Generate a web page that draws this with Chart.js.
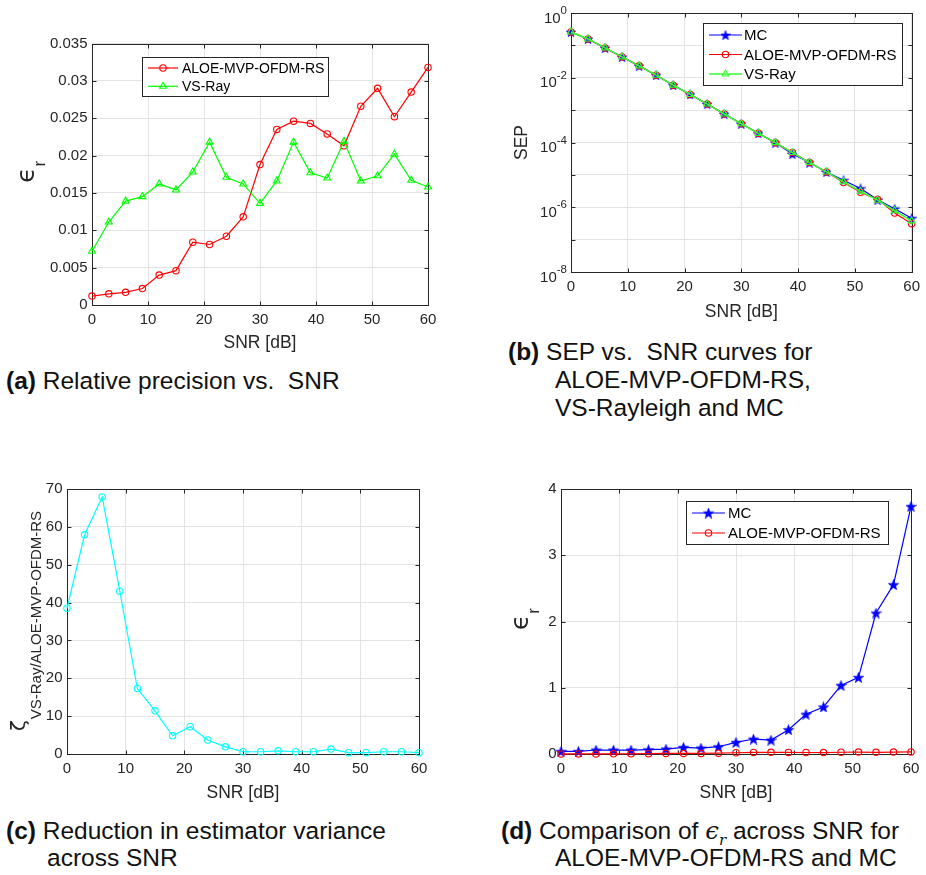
<!DOCTYPE html>
<html lang="en">
<head>
<meta charset="UTF-8">
<title>ALOE-MVP-OFDM-RS vs SNR</title>
<script src="https://cdn.jsdelivr.net/npm/chart.js"></script>
<style>
    body { margin: 0; background: #fff; width: 926px; height: 875px; position: relative; overflow: hidden; }
    canvas { position: absolute; }
    .cap { position: absolute; font-family: 'Liberation Sans', Arial, sans-serif; font-size: 24.5px; line-height: 28px; color: #111; white-space: nowrap; }
    .cap b { font-weight: 700; }
    .eps { font-family: 'DejaVu Serif', serif; font-style: italic; }
    .eps sub { font-size: 15px; }
</style>
</head>
<body>
<canvas id="chA" width="445" height="325" style="left:0;top:30px"></canvas>
<canvas id="chB" width="456" height="324" style="left:470px;top:0"></canvas>
<canvas id="chC" width="440" height="330" style="left:0;top:475px"></canvas>
<canvas id="chD" width="456" height="330" style="left:470px;top:475px"></canvas>

<div class="cap" style="left:6px;top:367px"><b>(a)</b> Relative precision vs.&nbsp; SNR</div>
<div class="cap" style="left:508px;top:338px"><b>(b)</b> SEP vs.&nbsp; SNR curves for</div>
<div class="cap" style="left:555px;top:366px">ALOE-MVP-OFDM-RS,</div>
<div class="cap" style="left:555px;top:394px">VS-Rayleigh and MC</div>
<div class="cap" style="left:6px;top:817px"><b>(c)</b> Reduction in estimator variance</div>
<div class="cap" style="left:47px;top:844px">across SNR</div>
<div class="cap" style="left:501px;top:817px"><b>(d)</b> Comparison of <span class="eps">ϵ<sub>r</sub></span> across SNR for</div>
<div class="cap" style="left:555px;top:844px">ALOE-MVP-OFDM-RS and MC</div>

<script>
    const FONT = "'Liberation Sans', Arial, Helvetica, sans-serif";
    const AX = '#262626';
    const GRID = '#e3e3e3';

    // data
    const snr = [0, 3, 6, 9, 12, 15, 18, 21, 24, 27, 30, 33, 36, 39, 42, 45, 48, 51, 54, 57, 60];

    const aloeEps  = [0.0012, 0.0015, 0.0017, 0.0022, 0.0040, 0.0046, 0.0084, 0.0081, 0.0092, 0.0118, 0.0188,
                      0.0235, 0.0246, 0.0243, 0.0229, 0.0213, 0.0266, 0.0290, 0.0252, 0.0285, 0.0318];
    const vsRayEps = [0.0072, 0.0111, 0.0139, 0.0145, 0.0162, 0.0154, 0.0178, 0.0218, 0.0171, 0.0162, 0.0136,
                      0.0166, 0.0218, 0.0177, 0.0170, 0.0219, 0.0166, 0.0173, 0.0202, 0.0167, 0.0158];

    const mcSep    = [0.26, 0.158, 0.0835, 0.044, 0.0233, 0.012, 0.0059, 0.00305, 0.00154, 0.00076, 0.00038,
                      0.000192, 9.9e-5, 4.4e-5, 2.4e-5, 1.23e-5, 6.85e-6, 3.8e-6, 1.7e-6, 9.0e-7, 4.6e-7];
    const aloeSep  = [0.26, 0.158, 0.0835, 0.044, 0.0233, 0.012, 0.0059, 0.00305, 0.00154, 0.00076, 0.00038,
                      0.000192, 9.9e-5, 4.9e-5, 2.4e-5, 1.23e-5, 5.8e-6, 2.9e-6, 1.75e-6, 6.6e-7, 3.1e-7];
    const vsRaySep = [0.26, 0.158, 0.0835, 0.044, 0.0233, 0.012, 0.0059, 0.00305, 0.00154, 0.00076, 0.00038,
                      0.000192, 9.9e-5, 4.9e-5, 2.4e-5, 1.23e-5, 6.1e-6, 3.1e-6, 1.65e-6, 7.8e-7, 3.8e-7];

    const zeta     = [38.5, 57.9, 67.9, 43.0, 17.3, 11.4, 4.8, 7.2, 3.7, 1.9, 0.6,
                      0.6, 0.85, 0.6, 0.6, 1.3, 0.35, 0.35, 0.6, 0.6, 0.35];

    const mcEps    = [0.04, 0.04, 0.06, 0.06, 0.06, 0.065, 0.075, 0.10, 0.09, 0.11, 0.176,
                      0.226, 0.21, 0.367, 0.60, 0.71, 1.036, 1.157, 2.128, 2.556, 3.738];

    const sepExp = [0, -1, -2, -3, -4, -5, -6, -7, -8];

    const pts = vals => vals.map((v, i) => ({ x: snr[i], y: v }));

    // filled pentagram marker like matlab 'p'
    function pentagram(color, size) {
        const c = document.createElement('canvas');
        c.width = size; c.height = size;
        const g = c.getContext('2d');
        const r = size / 2, ri = r * 0.42;
        g.beginPath();
        for (let k = 0; k < 10; k++) {
            const rr = k % 2 ? ri : r;
            const a = -Math.PI / 2 + k * Math.PI / 5;
            g.lineTo(r + rr * Math.cos(a), r + 0.6 + rr * Math.sin(a));
        }
        g.closePath();
        g.fillStyle = color;
        g.fill();
        g.strokeStyle = color; g.lineWidth = 0.6; g.stroke();
        return c;
    }

    // later series sit on top, as in matlab (order = drawing rank)
    function series(label, data, color, style, radius, rank, width) {
        return {
            label: label, data: pts(data), order: rank,
            borderColor: color, backgroundColor: color, borderWidth: width || 1.2,
            pointStyle: style, pointRadius: radius, pointHoverRadius: radius,
            pointBorderWidth: 1.1, pointBackgroundColor: 'rgba(0,0,0,0)', pointBorderColor: color,
            tension: 0, clip: false
        };
    }

    function xAxis(h) {
        return {
            type: 'linear', min: 0, max: 60,
            border: { display: false },
            grid: { color: GRID, drawTicks: false },
            ticks: { stepSize: 10, padding: 6, color: AX, font: { family: FONT, size: 15 }, maxRotation: 0 },
            title: { display: true, text: 'SNR [dB]', color: AX, font: { family: FONT, size: 17.5 }, padding: { top: 0, bottom: 1 } },
            afterFit: s => { s.height = h; }
        };
    }

    function yLinear(min, max, step, w) {
        return {
            type: 'linear', min: min, max: max,
            border: { display: false },
            grid: { color: GRID, drawTicks: false },
            ticks: {
                stepSize: step, padding: 4.5, color: AX, font: { family: FONT, size: 15 },
                callback: v => String(parseFloat(Number(v).toFixed(4)))
            },
            afterFit: s => { s.width = w; }
        };
    }

    // box + inward ticks, matlab style
    const matlabAxes = {
        id: 'matlabAxes',
        beforeDatasetsDraw(chart) {
            const { ctx, chartArea: a, scales } = chart;
            const L = Math.round(a.left) + 0.5, R = Math.round(a.right) + 0.5;
            const T = Math.round(a.top) + 0.5, B = Math.round(a.bottom) + 0.5;
            ctx.save();
            ctx.strokeStyle = AX;
            ctx.lineWidth = 1;
            ctx.strokeRect(L, T, R - L, B - T);
            ctx.beginPath();
            scales.x.ticks.forEach(t => {
                const px = Math.round(scales.x.getPixelForValue(t.value)) + 0.5;
                ctx.moveTo(px, B); ctx.lineTo(px, B - 4);
                ctx.moveTo(px, T); ctx.lineTo(px, T + 4);
            });
            scales.y.ticks.forEach(t => {
                const py = Math.round(scales.y.getPixelForValue(t.value)) + 0.5;
                ctx.moveTo(L, py); ctx.lineTo(L + 4, py);
                ctx.moveTo(R, py); ctx.lineTo(R - 4, py);
            });
            ctx.stroke();
            ctx.restore();
        }
    };

    function drawMarker(ctx, ds, x, y) {
        const r = ds.pointRadius;
        ctx.save();
        ctx.strokeStyle = ds.pointBorderColor;
        ctx.lineWidth = ds.pointBorderWidth;
        if (ds.pointStyle === 'circle') {
            ctx.beginPath(); ctx.arc(x, y, r, 0, Math.PI * 2); ctx.stroke();
        } else if (ds.pointStyle === 'triangle') {
            ctx.beginPath();
            for (let k = 0; k < 3; k++) {
                const a = -Math.PI / 2 + k * 2 * Math.PI / 3;
                ctx.lineTo(x + r * Math.cos(a), y + r * Math.sin(a));
            }
            ctx.closePath(); ctx.stroke();
        } else {
            const img = ds.pointStyle;
            ctx.drawImage(img, x - img.width / 2, y - img.height / 2);
        }
        ctx.restore();
    }

    const boxLegend = {
        id: 'boxLegend',
        afterDraw(chart, args, o) {
            if (!o.box) return;
            const ctx = chart.ctx;
            const [x, y, w, h] = o.box;
            ctx.save();
            ctx.fillStyle = '#fff';
            ctx.fillRect(x, y, w, h);
            ctx.strokeStyle = AX;
            ctx.lineWidth = 1;
            ctx.strokeRect(x + 0.5, y + 0.5, w, h);
            ctx.font = o.size + 'px ' + FONT;
            ctx.textBaseline = 'middle';
            ctx.textAlign = 'left';
            o.rows.forEach((idx, i) => {
                const ds = chart.data.datasets[idx];
                const ry = y + o.top + i * o.step;
                ctx.strokeStyle = ds.borderColor;
                ctx.lineWidth = ds.borderWidth;
                ctx.beginPath();
                ctx.moveTo(x + o.l1, ry); ctx.lineTo(x + o.l2, ry);
                ctx.stroke();
                drawMarker(ctx, ds, x + (o.l1 + o.l2) / 2, ry);
                ctx.fillStyle = '#000';
                ctx.fillText(ds.label, x + o.tx, ry + 1);
            });
            ctx.restore();
        }
    };

    // rotated y label with a subscript (epsilon_r, zeta_...)
    const yTitle = {
        id: 'yTitle',
        afterDraw(chart, args, o) {
            if (!o.main) return;
            const { ctx, chartArea: a } = chart;
            const cy = (a.top + a.bottom) / 2 + (o.dy || 0);
            const fm = o.mainSize + 'px ' + (o.mainFont || FONT), fs = o.subSize + 'px ' + FONT;
            ctx.save();
            ctx.font = fm;
            const wm = ctx.measureText(o.main).width;
            ctx.font = fs;
            const ws = ctx.measureText(o.sub).width;
            const start = -(wm + ws) / 2;
            ctx.translate(o.cx, cy);
            ctx.rotate(-Math.PI / 2);
            ctx.fillStyle = AX;
            ctx.textAlign = 'left';
            ctx.textBaseline = 'alphabetic';
            ctx.font = fm;
            ctx.fillText(o.main, start, o.mainBase);
            ctx.font = fs;
            ctx.fillText(o.sub, start + wm + 1, o.subBase);
            ctx.restore();
        }
    };

    // 10^k labels on the log axis
    const logLabels = {
        id: 'logLabels',
        afterDraw(chart, args, o) {
            if (!o.on) return;
            const s = chart.scales.y, ctx = chart.ctx;
            const right = chart.chartArea.left - 4;
            ctx.save();
            ctx.fillStyle = AX;
            ctx.textAlign = 'right';
            ctx.textBaseline = 'alphabetic';
            s.ticks.forEach(t => {
                const e = Math.round(Math.log10(t.value));
                if (e % 2) return;
                const py = s.getPixelForValue(t.value);
                const ex = String(e);
                ctx.font = '11.5px ' + FONT;
                const we = ctx.measureText(ex).width;
                ctx.fillText(ex, right, py + 1);
                ctx.font = '15px ' + FONT;
                ctx.fillText('10', right - we, py + 9.5);
            });
            ctx.restore();
        }
    };

    Chart.register(matlabAxes, boxLegend, yTitle, logLabels);
    Chart.defaults.font.family = FONT;

    const baseOptions = (pad, scales, plugins) => ({
        responsive: false, animation: false, devicePixelRatio: 1,
        layout: { padding: pad },
        scales: scales,
        plugins: Object.assign({ legend: { display: false }, tooltip: { enabled: false } }, plugins)
    });

    const epsLabel = cx => ({ main: 'ϵ', sub: 'r', cx: cx, mainSize: 25, mainFont: "'DejaVu Sans', sans-serif",
                              subSize: 17, mainBase: 6.5, subBase: 18, dy: -2 });

    // (a) relative precision
    new Chart(document.getElementById('chA'), {
        type: 'line',
        data: { datasets: [
            series('ALOE-MVP-OFDM-RS', aloeEps, '#ff0000', 'circle', 3.2, 2),
            series('VS-Ray', vsRayEps, '#00ff00', 'triangle', 4, 1)
        ] },
        options: baseOptions({ top: 13, right: 17, left: 0, bottom: 0 },
            { x: xAxis(50), y: yLinear(0, 0.035, 0.005, 92) },
            {
                boxLegend: { box: [142, 27, 186, 39], rows: [0, 1], top: 11, step: 18.3, l1: 6, l2: 36, tx: 40, size: 14 },
                yTitle: epsLabel(27)
            })
    });

    // (b) SEP, log scale
    new Chart(document.getElementById('chB'), {
        type: 'line',
        data: { datasets: [
            series('MC', mcSep, '#0000ff', pentagram('#0000ff', 10), 4, 3),
            series('ALOE-MVP-OFDM-RS', aloeSep, '#ff0000', 'circle', 3.2, 2),
            series('VS-Ray', vsRaySep, '#33ff33', 'triangle', 4, 1, 1.5)
        ] },
        options: baseOptions({ top: 13, right: 14, left: 0, bottom: 0 },
            {
                x: xAxis(52),
                y: {
                    type: 'logarithmic', min: 1e-8, max: 1,
                    border: { display: false },
                    grid: { color: GRID, drawTicks: false },
                    ticks: { display: false },
                    afterBuildTicks: s => { s.ticks = sepExp.map(e => ({ value: Math.pow(10, e) })); },
                    title: { display: true, text: 'SEP', color: AX, font: { family: FONT, size: 17.5 }, padding: { top: 41.5, bottom: 0 } },
                    afterFit: s => { s.width = 101; }
                }
            },
            {
                logLabels: { on: true },
                boxLegend: { box: [233, 23, 199, 62], rows: [0, 1, 2], top: 12, step: 19.5, l1: 6, l2: 39, tx: 41, size: 15 }
            })
    });

    // (c) variance reduction
    new Chart(document.getElementById('chC'), {
        type: 'line',
        data: { datasets: [
            series('VS-Ray/ALOE-MVP-OFDM-RS', zeta, '#00ffff', 'circle', 3.2, 1)
        ] },
        options: baseOptions({ top: 14, right: 21, left: 0, bottom: 0 },
            { x: xAxis(51), y: yLinear(0, 70, 10, 67) },
            {
                yTitle: { main: 'ζ', sub: 'VS-Ray/ALOE-MVP-OFDM-RS', cx: 20, mainSize: 20, mainFont: "'DejaVu Sans', sans-serif",
                          subSize: 15, mainBase: 5, subBase: 20.5, dy: 0 }
            })
    });

    // (d) MC vs ALOE relative precision
    new Chart(document.getElementById('chD'), {
        type: 'line',
        data: { datasets: [
            series('MC', mcEps, '#0000ff', pentagram('#0000ff', 11), 4, 2),
            series('ALOE-MVP-OFDM-RS', aloeEps, '#ff0000', 'circle', 3.2, 1)
        ] },
        options: baseOptions({ top: 14, right: 15, left: 0, bottom: 0 },
            { x: xAxis(51), y: yLinear(0, 4, 1, 91) },
            {
                boxLegend: { box: [216, 26, 202, 43], rows: [0, 1], top: 12, step: 20, l1: 6, l2: 39, tx: 42, size: 15 },
                yTitle: epsLabel(51)
            })
    });
</script>
</body>
</html>
